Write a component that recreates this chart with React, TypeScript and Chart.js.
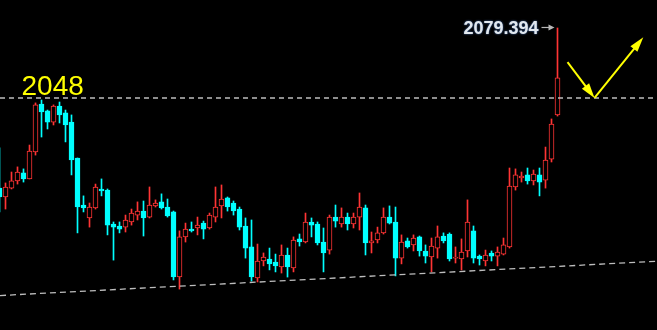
import React, { useEffect, useRef } from "react";
import { Chart, registerables } from "chart.js";

Chart.register(...registerables);

// Candle data (index 0 is the partially visible candle at the left edge)
const opens = [
  2007.6, 2003.6, 2007.6, 2010.8, 2014.4, 2011.7, 2023.8, 2045.3, 2042.2, 2037.2,
  2044.4, 2041.3, 2037.2, 2021.1, 2000.0, 1994.2, 1998.7, 2007.2, 2006.7, 1991.5,
  1990.6, 1990.1, 1992.4, 1995.5, 1997.3, 1994.6, 1999.6, 2001.4, 1999.1, 1996.9,
  1967.7, 1985.7, 1989.2, 1989.7, 1991.9, 1989.7, 1994.6, 1999.6, 2003.2, 2000.9,
  1998.2, 1990.6, 1981.2, 1967.3, 1974.9, 1975.8, 1974.4, 1972.2, 1977.6, 1971.8,
  1984.8, 1983.4, 1992.4, 1991.5, 1983.4, 1979.8, 1994.6, 1991.5, 1994.6, 1991.5,
  1994.6, 1998.7, 1983.0, 1984.3, 1987.5, 1994.6, 1992.4, 1976.2, 1983.9, 1982.1,
  1985.7, 1979.4, 1976.7, 1980.7, 1986.1, 1987.0, 1976.2, 1975.8, 1979.4, 1988.4,
  1977.1, 1974.9, 1978.5, 1977.1, 1978.0, 1981.2, 2008.1, 2012.1, 2013.5, 2010.8,
  2013.5, 2011.2, 2020.6, 2040.4,
];
const closes = [
  2003.6, 2008.1, 2010.8, 2014.8, 2011.7, 2024.2, 2044.9, 2041.7, 2037.2, 2044.4,
  2040.4, 2035.9, 2020.2, 1999.1, 1998.7, 1999.1, 2008.1, 2006.3, 1991.0, 1990.1,
  1989.2, 1993.3, 1996.4, 1997.3, 1994.2, 2000.0, 2000.9, 1998.7, 1995.1, 1967.7,
  1985.7, 1989.2, 1988.4, 1991.0, 1989.2, 1995.5, 1999.1, 2002.7, 1999.1, 1997.3,
  1990.1, 1980.7, 1967.7, 1974.9, 1976.7, 1973.6, 1972.7, 1977.6, 1972.2, 1984.3,
  1983.4, 1992.4, 1991.0, 1983.0, 1978.5, 1994.6, 1992.8, 1994.6, 1991.5, 1994.6,
  1999.1, 1983.0, 1983.9, 1987.5, 1994.6, 1991.9, 1976.2, 1983.4, 1981.2, 1985.2,
  1979.4, 1977.1, 1981.6, 1985.7, 1983.9, 1975.8, 1976.7, 1978.9, 1992.4, 1976.2,
  1975.8, 1977.6, 1977.1, 1978.9, 1982.1, 2008.5, 2013.5, 2013.0, 2010.8, 2013.9,
  2010.3, 2020.2, 2036.3, 2057.0,
];
const highs = [
  2025.6, 2009.9, 2014.8, 2017.1, 2016.2, 2026.9, 2045.8, 2047.1, 2042.6, 2044.9,
  2046.2, 2042.6, 2040.4, 2021.1, 2004.1, 2000.9, 2009.4, 2011.7, 2007.2, 1992.4,
  1992.4, 1995.5, 1998.2, 2001.4, 2001.8, 2008.1, 2002.3, 2005.0, 2002.7, 1997.3,
  1988.4, 1991.9, 1992.4, 1994.6, 1992.8, 1996.4, 2008.1, 2009.0, 2003.6, 2001.8,
  1999.1, 1994.2, 1993.3, 1982.5, 1978.5, 1980.7, 1978.0, 1982.1, 1980.7, 1985.7,
  1987.0, 1996.4, 1994.2, 1992.4, 1989.7, 1995.5, 2000.0, 1998.7, 1996.4, 1996.4,
  2005.4, 2000.0, 1987.9, 1990.1, 1998.7, 1999.6, 1999.1, 1986.6, 1985.2, 1986.6,
  1986.1, 1982.1, 1985.2, 1990.6, 1987.5, 1987.5, 1981.2, 1984.8, 2002.3, 1990.6,
  1977.6, 1979.8, 1979.4, 1981.2, 1985.2, 2016.6, 2016.2, 2014.8, 2016.6, 2015.7,
  2016.6, 2026.0, 2038.6, 2079.4,
];
const lows = [
  1996.9, 1998.2, 2007.2, 2009.4, 2010.3, 2011.7, 2022.4, 2030.5, 2034.1, 2035.9,
  2036.8, 2028.3, 2013.5, 1987.5, 1996.9, 1990.1, 1998.2, 2004.1, 1986.6, 1975.3,
  1987.5, 1987.9, 1991.0, 1993.3, 1986.1, 1994.2, 1999.1, 1998.2, 1994.6, 1966.4,
  1962.3, 1983.4, 1987.9, 1986.6, 1984.8, 1989.2, 1992.4, 1994.2, 1997.3, 1995.5,
  1988.8, 1976.2, 1965.9, 1965.5, 1972.7, 1970.9, 1970.0, 1969.5, 1967.7, 1970.0,
  1981.6, 1983.0, 1985.7, 1982.1, 1970.0, 1978.0, 1990.1, 1990.1, 1988.8, 1989.7,
  1988.8, 1977.6, 1978.5, 1983.0, 1987.0, 1991.5, 1968.2, 1973.6, 1980.7, 1979.4,
  1977.1, 1974.0, 1970.0, 1976.2, 1983.0, 1974.9, 1974.0, 1970.9, 1976.7, 1974.0,
  1973.1, 1972.7, 1974.9, 1972.7, 1977.6, 1980.7, 2006.7, 2010.3, 2009.4, 2009.0,
  2004.1, 2007.6, 2019.3, 2039.9,
];

// Horizontal resistance and rising support line
const resistanceLevel = 2048;
const resistanceText = "2048";
const resistanceTextAt = [3.67, 2049.3]; // [candle index, price]
const supportLine = [1959.4, 1974.8]; // price at left edge, price at right edge
const peakText = "2079.394";
// Yellow arrow path: [candle index, price]
const arrowPath = [
  [94.67, 2064.1],
  [99.17, 2048.0],
  [107.3, 2075.2],
];

const X_MIN = 0.0833;
const X_MAX = 109.5833;
const Y_MIN = 1943.95;
const Y_MAX = 2091.95;

const UP = "#ff3434";
const DOWN = "#00ffff";
const DASH = "#bdbdbd";

function arrowHead(ctx: CanvasRenderingContext2D, x0: number, y0: number, x1: number, y1: number, len: number, half: number) {
  const a = Math.atan2(y1 - y0, x1 - x0);
  const bx = x1 - Math.cos(a) * len;
  const by = y1 - Math.sin(a) * len;
  ctx.beginPath();
  ctx.moveTo(x1, y1);
  ctx.lineTo(bx + Math.sin(a) * half, by - Math.cos(a) * half);
  ctx.lineTo(bx - Math.sin(a) * half, by + Math.cos(a) * half);
  ctx.closePath();
  ctx.fill();
}

const annotationPlugin = {
  id: "annotations",
  afterDatasetsDraw(chart: any) {
    const { ctx, scales } = chart;
    const x = scales.x;
    const y = scales.y;
    ctx.save();
    // 2048 label
    ctx.font = '28px "Liberation Sans", Arial, sans-serif';
    ctx.fillStyle = "#ffff00";
    ctx.textAlign = "left";
    ctx.textBaseline = "alphabetic";
    ctx.fillText(resistanceText, x.getPixelForValue(resistanceTextAt[0]), y.getPixelForValue(resistanceTextAt[1]));

    // Peak label with gray arrow
    const last = highs.length - 1;
    const px = x.getPixelForValue(last);
    const py = y.getPixelForValue(highs[last]);
    ctx.font = 'bold 18px "Liberation Sans", Arial, sans-serif';
    ctx.textAlign = "right";
    ctx.textBaseline = "middle";
    ctx.shadowColor = "rgba(90,140,220,0.9)";
    ctx.shadowBlur = 2;
    ctx.fillStyle = "#e2e8ee";
    ctx.fillText(peakText, px - 19, py + 1);
    ctx.shadowBlur = 0;
    ctx.shadowColor = "transparent";
    ctx.strokeStyle = "#b8b8b8";
    ctx.fillStyle = "#b8b8b8";
    ctx.lineWidth = 1.2;
    ctx.beginPath();
    ctx.moveTo(px - 16, py - 0.5);
    ctx.lineTo(px - 6, py - 0.5);
    ctx.stroke();
    arrowHead(ctx, px - 16, py - 0.5, px - 3, py - 0.5, 6, 3);

    // Yellow arrows
    ctx.strokeStyle = "#ffff00";
    ctx.fillStyle = "#ffff00";
    ctx.lineWidth = 2;
    const pts = arrowPath.map((p) => [x.getPixelForValue(p[0]), y.getPixelForValue(p[1])]);
    for (let i = 0; i < pts.length - 1; i++) {
      const [ax, ay] = pts[i];
      const [bx, by] = pts[i + 1];
      const a = Math.atan2(by - ay, bx - ax);
      ctx.beginPath();
      ctx.moveTo(ax, ay);
      ctx.lineTo(bx - Math.cos(a) * 8, by - Math.sin(a) * 8);
      ctx.stroke();
      arrowHead(ctx, ax, ay, bx, by, 15, 4.5);
    }
    ctx.restore();
  },
};

export default function App() {
  const ref = useRef<HTMLCanvasElement>(null);
  useEffect(() => {
    document.body.style.margin = "0";
    document.body.style.background = "#000";
    const canvas = ref.current!;
    const isUp = opens.map((o, i) => closes[i] >= o);
    const chart = new Chart(canvas, {
      type: "bar",
      data: {
        datasets: [
          {
            type: "line",
            data: [
              { x: X_MIN, y: resistanceLevel },
              { x: X_MAX, y: resistanceLevel },
            ],
            borderColor: DASH,
            borderWidth: 1.3,
            borderDash: [5, 4],
            pointRadius: 0,
            order: 0,
          } as any,
          {
            type: "line",
            data: [
              { x: X_MIN, y: supportLine[0] },
              { x: X_MAX, y: supportLine[1] },
            ],
            borderColor: DASH,
            borderWidth: 1.3,
            borderDash: [6, 4],
            pointRadius: 0,
            order: 0,
          } as any,
          {
            type: "bar",
            data: lows.map((l, i) => ({ x: i, y: [l, highs[i]] })),
            backgroundColor: isUp.map((u) => (u ? UP : DOWN)),
            borderWidth: 0,
            barThickness: 1,
            grouped: false,
            order: 3,
          } as any,
          {
            type: "bar",
            data: opens.map((o, i) => ({ x: i, y: [o, closes[i]] })),
            backgroundColor: isUp.map((u) => (u ? "#000000" : DOWN)),
            borderColor: isUp.map((u) => (u ? UP : DOWN)),
            borderWidth: 1,
            borderSkipped: false,
            barThickness: 5,
            grouped: false,
            order: 2,
          } as any,
        ],
      },
      options: {
        animation: false,
        responsive: false,
        maintainAspectRatio: false,
        layout: { padding: 0 },
        plugins: { legend: { display: false }, tooltip: { enabled: false } },
        scales: {
          x: { type: "linear", min: X_MIN, max: X_MAX, display: false, offset: false },
          y: { type: "linear", min: Y_MIN, max: Y_MAX, display: false },
        },
      },
      plugins: [annotationPlugin],
    });
    return () => chart.destroy();
  }, []);
  return (
    <div style={{ width: 657, height: 330, background: "#000" }}>
      <canvas ref={ref} width={657} height={330} style={{ display: "block" }} />
    </div>
  );
}
